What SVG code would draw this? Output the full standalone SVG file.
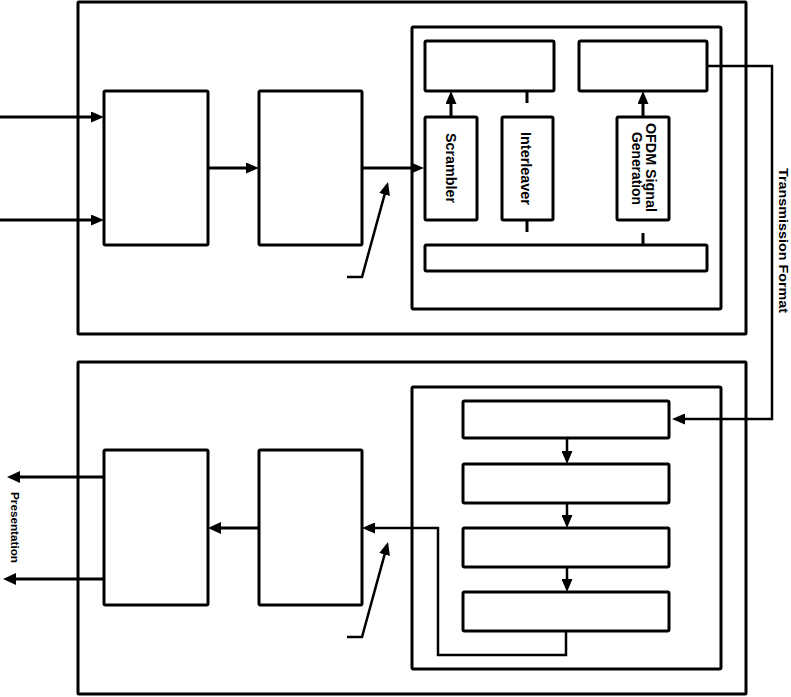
<svg xmlns="http://www.w3.org/2000/svg" width="791" height="697" viewBox="0 0 791 697">
<defs>
<style>
.box{fill:#fff;stroke:#000;stroke-width:3}
.ln{fill:none;stroke:#000;stroke-width:3}
.thin{fill:none;stroke:#000;stroke-width:2.5}
.arr{marker-end:url(#ah)}
.sarr{marker-end:url(#sh)}
.t{font-family:"Liberation Sans",Arial,sans-serif;font-size:15px;font-weight:bold;fill:#000;text-anchor:middle}
</style>
<marker id="ah" viewBox="0 0 13 11" markerWidth="13" markerHeight="11" refX="8" refY="5.5" orient="auto" markerUnits="userSpaceOnUse"><path d="M0,0 L13,5.5 L0,11 z" fill="#000"/></marker>
<marker id="sh" viewBox="0 0 13 12" markerWidth="13" markerHeight="12" refX="8" refY="6" orient="auto" markerUnits="userSpaceOnUse"><path d="M0,0 L13,6 L0,12 z" fill="#000"/></marker>
</defs>
<rect width="791" height="697" fill="#fff"/>

<g id="tx-outer"><rect class="box" x="78" y="2" width="668" height="332" rx="1"/></g>
<g id="tx-a"><rect class="box" x="104" y="91" width="104" height="154" rx="1.5"/></g>
<g id="tx-b"><rect class="box" x="259" y="91" width="103" height="154" rx="1.5"/></g>
<g id="tx-inner"><rect class="box" x="412" y="27" width="309" height="282" rx="1.5"/></g>
<g id="tx-tl"><rect class="box" x="425" y="41" width="129" height="50" rx="1.5"/></g>
<g id="tx-tr"><rect class="box" x="579" y="41" width="128" height="50" rx="1.5"/></g>
<g id="scrambler"><rect class="box" x="425" y="117" width="52" height="103" rx="1.5"/>
<text class="t" textLength="70" lengthAdjust="spacingAndGlyphs" transform="translate(446,168) rotate(90)">Scrambler</text></g>
<g id="interleaver"><rect class="box" x="502" y="117" width="51" height="103" rx="1.5"/>
<text class="t" textLength="73" lengthAdjust="spacingAndGlyphs" transform="translate(520.5,168.5) rotate(90)">Interleaver</text></g>
<g id="ofdm"><rect class="box" x="617" y="117" width="52" height="103" rx="1.5"/>
<text class="t" textLength="89" lengthAdjust="spacingAndGlyphs" transform="translate(645.5,167.5) rotate(90)">OFDM Signal</text>
<text class="t" textLength="73" lengthAdjust="spacingAndGlyphs" transform="translate(631.5,168.5) rotate(90)">Generation</text></g>
<g id="tx-bar"><rect class="box" x="425" y="245" width="282" height="26" rx="1.5"/></g>

<g id="rx-outer"><rect class="box" x="78" y="362" width="668" height="332" rx="1"/></g>
<g id="rx-c"><rect class="box" x="104" y="450" width="104" height="155" rx="1.5"/></g>
<g id="rx-d"><rect class="box" x="259" y="450" width="103" height="155" rx="1.5"/></g>
<g id="rx-inner"><rect class="box" x="412" y="387" width="309" height="282" rx="1.5"/></g>
<g id="rx-1"><rect class="box" x="463" y="401" width="206" height="37" rx="1.5"/></g>
<g id="rx-2"><rect class="box" x="463" y="464" width="206" height="39" rx="1.5"/></g>
<g id="rx-3"><rect class="box" x="463" y="528" width="206" height="39" rx="1.5"/></g>
<g id="rx-4"><rect class="box" x="463" y="592" width="206" height="39" rx="1.5"/></g>

<g id="labels">
<text class="t" style="font-size:12.5px" textLength="145" lengthAdjust="spacingAndGlyphs" transform="translate(779,240.5) rotate(90)">Transmission Format</text>
<text class="t" style="font-size:10px" textLength="71" lengthAdjust="spacingAndGlyphs" transform="translate(11,527.5) rotate(90)">Presentation</text>
</g>

<g id="connectors">
<path class="ln arr" d="M0,117 H99"/>
<path class="ln arr" d="M0,220 H99"/>
<path class="ln arr" d="M208,168 H254"/>
<path class="ln arr" d="M362,168 H419"/>
<path class="thin arr" d="M347,277 H362 L386.7,186.8"/>
<path class="ln arr" d="M451,117 V96"/>
<path class="ln arr" d="M643,117 V96"/>
<path class="ln" d="M527,91 V103 M527,220 V232 M643,233 V245"/>
<path class="thin arr" d="M707,66 H772 V419 H677"/>
<path class="ln sarr" d="M259,528 H213"/>
<path class="ln sarr" d="M104,477 H12"/>
<path class="ln sarr" d="M104,579 H8"/>
<path class="thin arr" d="M566,631 V655 H438 V528 H367"/>
<path class="thin arr" d="M347,637 H362 L386.7,546.8"/>
<path class="thin arr" d="M567,438 V459"/>
<path class="thin arr" d="M567,503 V523"/>
<path class="thin arr" d="M567,567 V587"/>
</g>
</svg>
